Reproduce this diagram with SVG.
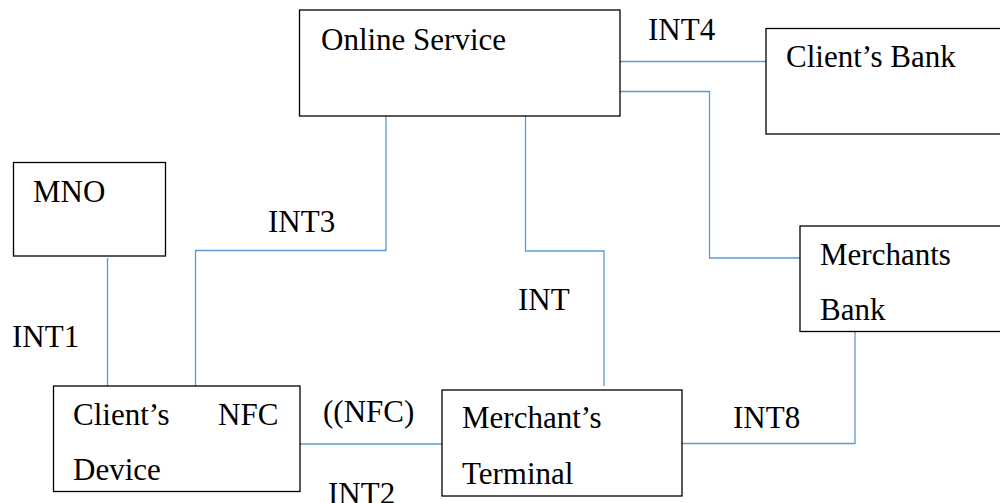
<svg xmlns="http://www.w3.org/2000/svg" width="1000" height="503" viewBox="0 0 1000 503">
  <style>
    .box { fill: #ffffff; stroke: #000000; stroke-width: 1.3; }
    .link { fill: none; stroke: #5b9bd5; stroke-width: 1.3; }
    .lbl { font-size: 31px; fill: #000000; }
  </style>
  <rect width="1000" height="503" fill="#ffffff"/>

  <!-- connectors -->
  <g id="connectors">
    <polyline class="link" points="620,61.5 766,61.5"/>
    <polyline class="link" points="620,91.5 709.5,91.5 709.5,258 800,258"/>
    <polyline class="link" points="386,116 386,250.5 195.5,250.5 195.5,386"/>
    <polyline class="link" points="525.5,116 525.5,251 604,251 604,386"/>
    <polyline class="link" points="107.5,258 107.5,386"/>
    <polyline class="link" points="300,444 442,444"/>
    <polyline class="link" points="682,443.5 855,443.5 855,332"/>
  </g>

  <g font-family="'Liberation Serif', 'Times New Roman', Times, serif">
    <!-- edge labels -->
    <g id="edge-labels">
      <text class="lbl" x="648" y="40">INT4</text>
      <text class="lbl" x="268" y="232">INT3</text>
      <text class="lbl" x="518" y="310">INT</text>
      <text class="lbl" x="12" y="347">INT1</text>
      <text class="lbl" x="323" y="422">((NFC)</text>
      <text class="lbl" x="328" y="504">INT2</text>
      <text class="lbl" x="733" y="428">INT8</text>
    </g>

    <g id="online-service">
      <rect class="box" x="299.5" y="10" width="320.5" height="106"/>
      <text class="lbl" x="321" y="50">Online Service</text>
    </g>

    <g id="clients-bank">
      <rect class="box" x="766" y="28.5" width="260" height="105.5"/>
      <text class="lbl" x="786" y="67">Client’s Bank</text>
    </g>

    <g id="mno">
      <rect class="box" x="13.5" y="162.5" width="152" height="93.5"/>
      <text class="lbl" x="33" y="202">MNO</text>
    </g>

    <g id="merchants-bank">
      <rect class="box" x="800" y="226" width="226" height="105.5"/>
      <text class="lbl" x="820" y="265">Merchants</text>
      <text class="lbl" x="820" y="320">Bank</text>
    </g>

    <g id="clients-device">
      <rect class="box" x="53.5" y="386" width="246.5" height="105.5"/>
      <text class="lbl" x="73" y="425">Client’s</text>
      <text class="lbl" x="218" y="425">NFC</text>
      <text class="lbl" x="73" y="480">Device</text>
    </g>

    <g id="merchants-terminal">
      <rect class="box" x="442" y="390" width="240" height="106"/>
      <text class="lbl" x="462" y="428">Merchant’s</text>
      <text class="lbl" x="462" y="484">Terminal</text>
    </g>
  </g>
</svg>
